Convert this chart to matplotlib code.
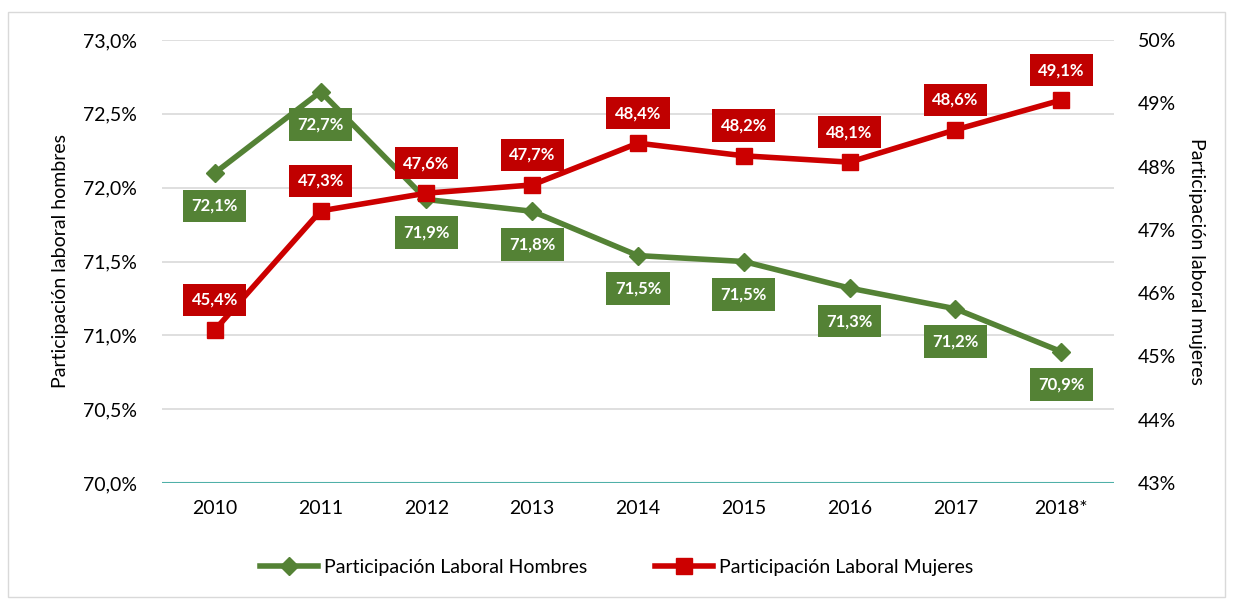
import matplotlib
matplotlib.use("Agg")
import matplotlib.pyplot as plt
from matplotlib.patches import Rectangle
from matplotlib.ticker import FuncFormatter

years = ["2010", "2011", "2012", "2013", "2014", "2015", "2016", "2017", "2018*"]
hombres = [72.10, 72.65, 71.92, 71.84, 71.54, 71.50, 71.32, 71.18, 70.89]
hombres_lbl = ["72,1%", "72,7%", "71,9%", "71,8%", "71,5%", "71,5%", "71,3%", "71,2%", "70,9%"]
mujeres = [45.42, 47.30, 47.58, 47.71, 48.37, 48.17, 48.07, 48.58, 49.05]
mujeres_lbl = ["45,4%", "47,3%", "47,6%", "47,7%", "48,4%", "48,2%", "48,1%", "48,6%", "49,1%"]

plt.rcParams['font.family'] = ['Lato', 'DejaVu Sans']

GREEN = "#548235"
RED = "#C00000"
RED_M = "#CC0000"

fig = plt.figure(figsize=(12.33, 5.99), dpi=100)
W, H = 1233, 599
ax = fig.add_axes([162 / W, 1 - 483 / H, (1114 - 162) / W, (483 - 40) / H])
ax2 = ax.twinx()

# border around chart
fig.patches.append(Rectangle((8 / W, 2 / H), (1225 - 8) / W, (587 - 2) / H,
                             transform=fig.transFigure, fill=False,
                             edgecolor="#d9d9d9", linewidth=1))

x = list(range(len(years)))
l1, = ax.plot(x, hombres, color=GREEN, lw=4, marker="D", ms=9, zorder=3,
              label="Participación Laboral Hombres")
l2, = ax2.plot(x, mujeres, color=RED_M, lw=4, marker="s", ms=11, zorder=3,
               label="Participación Laboral Mujeres")

ax.set_xlim(-0.5, len(years) - 0.5)
ax.set_ylim(70.0, 73.0)
ax.set_yticks([70.0, 70.5, 71.0, 71.5, 72.0, 72.5, 73.0])
ax.yaxis.set_major_formatter(FuncFormatter(lambda v, p: f"{v:.1f}%".replace(".", ",")))
ax2.set_ylim(43, 50)
ax2.set_yticks(range(43, 51))
ax2.yaxis.set_major_formatter(FuncFormatter(lambda v, p: f"{v:.0f}%"))

ax.set_xticks(x)
ax.set_xticklabels(years)
ax.grid(axis="y", color="#d9d9d9", lw=1.2)
ax.set_axisbelow(True)
for a in (ax, ax2):
    for s in ("top", "left", "right", "bottom"):
        a.spines[s].set_visible(False)
    a.tick_params(length=0, labelsize=14, colors="#000000")
ax.axhline(70.0, color="#4FB0A8", lw=1.5, zorder=2)
ax.tick_params(axis="y", pad=18)
ax2.tick_params(axis="y", pad=17)
ax.tick_params(axis="x", pad=12)

ax.set_ylabel("Participación laboral hombres", fontsize=14, labelpad=10)
ax2.set_ylabel("Participación laboral mujeres", fontsize=14, rotation=270, labelpad=21)

ax2.set_zorder(ax.get_zorder() + 1)
ax2.patch.set_visible(False)

for xi, v, t in zip(x, hombres, hombres_lbl):
    ax.annotate(t, xy=(xi, v), xytext=(0, -33), textcoords="offset pixels",
                ha="center", va="center", fontsize=12, fontweight="bold", color="white",
                bbox=dict(boxstyle="square,pad=0.5", fc=GREEN, ec="none"), zorder=5,
                annotation_clip=False)
for xi, v, t in zip(x, mujeres, mujeres_lbl):
    ax2.annotate(t, xy=(xi, v), xytext=(0, 30), textcoords="offset pixels",
                 ha="center", va="center", fontsize=12, fontweight="bold", color="white",
                 bbox=dict(boxstyle="square,pad=0.5", fc=RED, ec="none"), zorder=5,
                 annotation_clip=False)

fig.legend(handles=[l1, l2], loc="center", bbox_to_anchor=(0.5, 1 - 567 / H),
           ncol=2, frameon=False, fontsize=14, handlelength=3.0, columnspacing=3.5,
           handletextpad=0.3)

fig.savefig("out.png", dpi=100)
